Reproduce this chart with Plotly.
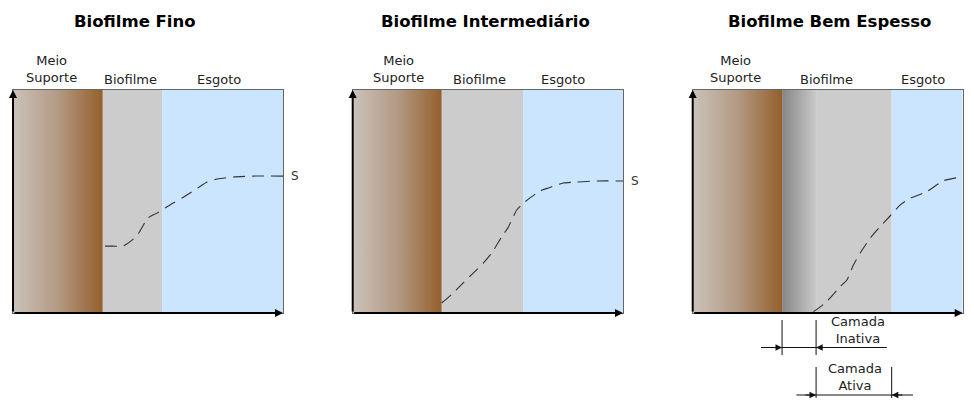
import plotly.graph_objects as go

# ---------------- data ----------------
titles = ["Biofilme Fino", "Biofilme Intermediário", "Biofilme Bem Espesso"]
zone_labels = ["Meio<br>Suporte", "Biofilme", "Esgoto"]
# zone label centres (depth units, 0-100) per panel
label_x = [[14.4, 43.7, 76.3], [16.8, 46.8, 77.7], [15.9, 49.7, 85.3]]
# zone boundaries (depth units, 0-100)
suporte_end = [33.2, 32.9, 33.1]
inativa_end = [None, None, 45.7]
biofilme_end = [55.2, 63.0, 73.7]

# substrate concentration profiles S (depth, concentration 0-100)
fino_x = [34.1, 37.0, 40.7, 44.1, 46.3, 50.0, 53.3, 59.3, 62.6, 68.5, 71.9, 75.6, 81.5, 88.9, 100]
fino_s = [30.0, 30.0, 30.0, 32.7, 35.4, 42.6, 44.8, 49.3, 51.6, 56.1, 58.7, 60.1, 61.0, 61.4, 61.4]
inter_x = [32.9, 37.2, 40.9, 44.6, 48.3, 51.4, 55.1, 57.6, 60.7, 63.7, 69.3, 72.4, 77.9, 82.9, 90.3, 100]
inter_s = [4.5, 9.0, 13.5, 17.9, 22.4, 26.9, 34.1, 38.6, 46.2, 49.8, 54.7, 56.1, 58.3, 58.7, 59.2, 59.2]
espesso_x = [44.7, 46.5, 49.6, 54.6, 57.1, 59.5, 62.0, 65.7, 69.4, 73.1, 76.8, 80.5, 86.7, 92.8, 100]
espesso_s = [0.6, 2.1, 5.1, 11.8, 14.8, 21.5, 26.8, 33.5, 38.7, 43.5, 48.4, 51.4, 54.4, 59.3, 61.1]
profiles = [(fino_x, fino_s), (inter_x, inter_s), (espesso_x, espesso_s)]

# ---------------- styling / layout ----------------
PAGE_W, PAGE_H = 974, 400
OFF = 8  # default page margin around the plot div
W, H = PAGE_W - OFF, PAGE_H - OFF


def fx(px):
    return (px - OFF) / W


def fy(py):
    return 1 - (py - OFF) / H


px_left = [13, 352.7, 692.7]
px_right = [283, 623, 962.7]
px_top, px_bottom = 90, 313
title_cx = [135, 485, 829]
label_bottom = [87, 89, 89]
FONT = "DejaVu Sans"
BROWN = [[0, "#cbc2ba"], [0.5, "#b39a84"], [1, "#955f2c"]]
DARK = [[0, "#868686"], [1, "#c9c9c9"]]
GRAY = "#cccccc"
BLUE = "#cce5ff"
TXT = "#222222"

fig = go.Figure()
annotations = []
shapes = []
ydom = [fy(px_bottom), fy(px_top)]

for i in range(3):
    xa = "x" if i == 0 else f"x{i+1}"
    ya = "y" if i == 0 else f"y{i+1}"
    xdom = [fx(px_left[i]), fx(px_right[i])]
    key = "" if i == 0 else str(i + 1)
    axstyle = dict(range=[0, 100], showgrid=False, zeroline=False, showticklabels=False,
                   ticks="", showline=True, mirror=True, linecolor="#666666", linewidth=1,
                   fixedrange=True)
    fig.update_layout(**{f"xaxis{key}": dict(domain=xdom, anchor=ya, **axstyle),
                         f"yaxis{key}": dict(domain=ydom, anchor=xa, **axstyle)})

    # support medium (gradient)
    s_end = suporte_end[i]
    fig.add_trace(go.Scatter(x=[0, s_end, s_end, 0, 0], y=[0, 0, 100, 100, 0], mode="lines",
                             fill="toself", line=dict(width=0),
                             fillgradient=dict(type="horizontal", colorscale=BROWN),
                             xaxis=xa, yaxis=ya, hoverinfo="skip", showlegend=False))
    b_start = s_end
    if inativa_end[i] is not None:
        fig.add_trace(go.Scatter(x=[s_end, inativa_end[i], inativa_end[i], s_end, s_end],
                                 y=[0, 0, 100, 100, 0], mode="lines", fill="toself",
                                 line=dict(width=0),
                                 fillgradient=dict(type="horizontal", colorscale=DARK),
                                 xaxis=xa, yaxis=ya, hoverinfo="skip", showlegend=False))
        b_start = inativa_end[i]
    shapes.append(dict(type="rect", xref=xa, yref=ya, x0=b_start, x1=biofilme_end[i], y0=0, y1=100,
                       fillcolor=GRAY, line=dict(width=0), layer="below"))
    shapes.append(dict(type="rect", xref=xa, yref=ya, x0=biofilme_end[i], x1=100, y0=0, y1=100,
                       fillcolor=BLUE, line=dict(width=0), layer="below"))

    # concentration profile
    cx, cy = profiles[i]
    fig.add_trace(go.Scatter(x=cx, y=cy, mode="lines", xaxis=xa, yaxis=ya,
                             line=dict(color="#333333", width=1.1, dash="12px,7px", shape="spline",
                                       smoothing=0.6),
                             hoverinfo="skip", showlegend=False))
    annotations.append(dict(x=100, y=cy[-1], xref=xa, yref=ya, text="S", showarrow=False,
                            xanchor="left", yanchor="middle", xshift=6,
                            font=dict(family=FONT, size=12, color="#333")))

    # axis arrows
    annotations.append(dict(x=0, y=100, ax=0, ay=0, xref=xa, yref=ya, axref=xa, ayref=ya, text="",
                            showarrow=True, arrowhead=2, arrowsize=0.8, arrowwidth=2, arrowcolor="black"))
    annotations.append(dict(x=100, y=0, ax=0, ay=0, xref=xa, yref=ya, axref=xa, ayref=ya, text="",
                            showarrow=True, arrowhead=2, arrowsize=0.8, arrowwidth=2, arrowcolor="black"))

    # title
    annotations.append(dict(x=fx(title_cx[i]), y=fy(22), xref="paper", yref="paper",
                            text=f"<b>{titles[i]}</b>", showarrow=False, xanchor="center", yanchor="middle",
                            font=dict(family=FONT, size=16.5, color="black")))
    # zone labels
    for j, lab in enumerate(zone_labels):
        annotations.append(dict(x=label_x[i][j], y=fy(label_bottom[j]), xref=xa, yref="paper", text=lab,
                                showarrow=False, xanchor="center", yanchor="bottom",
                                font=dict(family=FONT, size=13, color=TXT)))

# layer-thickness markers on the thick biofilm
xa3 = "x3"
a, b, c = suporte_end[2], inativa_end[2], biofilme_end[2]
LC = "#111111"
for xv, y0, y1 in [(a, 320, 355), (b, 320, 355), (b, 367, 398), (c, 367, 398)]:
    shapes.append(dict(type="line", xref=xa3, yref="paper", x0=xv, x1=xv,
                       y0=fy(y0), y1=fy(y1), line=dict(color=LC, width=1)))
shapes.append(dict(type="line", xref=xa3, yref="paper", x0=a - 7.8, x1=b + 26.2,
                   y0=fy(347.5), y1=fy(347.5), line=dict(color=LC, width=1)))
shapes.append(dict(type="line", xref=xa3, yref="paper", x0=b - 7.3, x1=c + 7.9,
                   y0=fy(395), y1=fy(395), line=dict(color=LC, width=1)))
for xv, yy, dx in [(a, 347.5, -12), (b, 347.5, 12), (b, 395, -12), (c, 395, 12)]:
    annotations.append(dict(x=xv, y=fy(yy), xref=xa3, yref="paper", ax=dx, ay=0, text="",
                            showarrow=True, arrowhead=2, arrowsize=1.1, arrowwidth=1.2, arrowcolor=LC))
annotations.append(dict(x=61.2, y=fy(330), xref=xa3, yref="paper", text="Camada<br>Inativa",
                        showarrow=False, xanchor="center", yanchor="middle",
                        font=dict(family=FONT, size=13, color=TXT)))
annotations.append(dict(x=60.1, y=fy(377), xref=xa3, yref="paper", text="Camada<br>Ativa",
                        showarrow=False, xanchor="center", yanchor="middle",
                        font=dict(family=FONT, size=13, color=TXT)))

fig.update_layout(width=W, height=H, margin=dict(l=0, r=0, t=0, b=0),
                  paper_bgcolor="white", plot_bgcolor="white", showlegend=False,
                  annotations=annotations, shapes=shapes, font=dict(family=FONT))
fig.write_html("out.html")
